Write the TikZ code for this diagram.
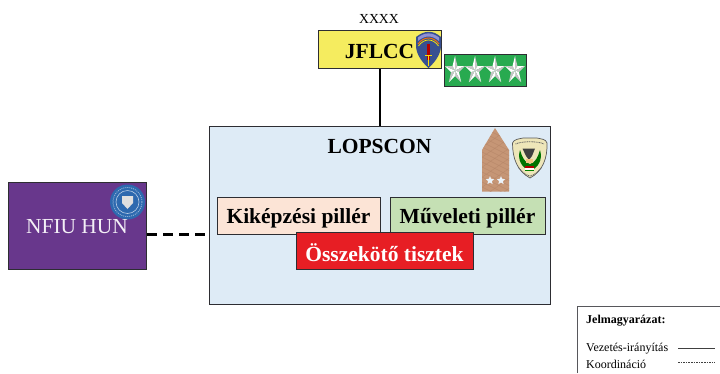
\documentclass[tikz,border=0pt]{standalone}
\usepackage{fontspec}
\setmainfont{Liberation Serif}
\usetikzlibrary{calc}
\definecolor{jyellow}{RGB}{245,236,95}
\definecolor{jgreen}{RGB}{40,170,80}
\definecolor{lblue}{RGB}{222,235,246}
\definecolor{kpeach}{RGB}{252,228,214}
\definecolor{mgreen}{RGB}{197,224,180}
\definecolor{ored}{RGB}{231,30,36}
\definecolor{npurple}{RGB}{104,55,140}
\definecolor{frame}{RGB}{45,45,50}
\definecolor{epa}{RGB}{198,150,118}
\definecolor{epad}{RGB}{178,130,100}
\definecolor{sealb}{RGB}{45,105,175}
\definecolor{badge}{RGB}{238,230,185}
\definecolor{shieldb}{RGB}{55,80,145}
\tikzset{
  box/.style={draw=frame,line width=1.3pt,minimum width=#1,inner sep=0pt,anchor=north west},
  big/.style={font=\fontsize{21.5}{24}\selectfont\bfseries},
  legend/.style={font=\fontsize{12}{14}\selectfont,anchor=west,inner sep=0pt},
  link/.style={line width=2.6pt,black}
}
\newcommand{\fivestar}[2]{%
 \foreach \a in {-90,-18,54,126,198}{
  \fill[white] (#1,#2) -- ($(#1,#2)+({10.5*cos(\a)},{14.5*sin(\a)})$) -- ($(#1,#2)+({4.2*cos(\a-36)},{5.5*sin(\a-36)})$) -- cycle;
  \fill[gray!45] (#1,#2) -- ($(#1,#2)+({10.5*cos(\a)},{14.5*sin(\a)})$) -- ($(#1,#2)+({4.2*cos(\a+36)},{5.5*sin(\a+36)})$) -- cycle;
 }}
\newcommand{\smallstar}[2]{%
 \fill[lblue!60!white] ($(#1,#2)+(-90:4.4)$) \foreach \a in {-90,-18,54,126,198}{ -- ($(#1,#2)+(\a:4.4)$) -- ($(#1,#2)+(\a+36:2)$)} -- cycle;}
\begin{document}
\begin{tikzpicture}[x=1pt,y=-1pt]
\useasboundingbox (0,0) rectangle (720,373);
% LOPSCON
\node[box=341pt,minimum height=178pt,fill=lblue] (lop) at (209,126) {};
\node[big] (loptext) at (379.5,146) {LOPSCON};
% JFLCC
\node[box=123pt,minimum height=38pt,fill=jyellow] (jf) at (318,30) {};
\node[big] (jftext) at (379.5,51) {JFLCC};
\node[font=\fontsize{13.8}{15}\selectfont] (xx) at (379,19) {XXXX};
\draw[link] (jf.south) -- (lop.north -| jf.south);
% JFLCC shield
\fill[shieldb] (416,37) .. controls (425,30) and (433,30) .. (441,37) -- (441,47) .. controls (440,56) and (434,63) .. (428.5,68) .. controls (423,63) and (417,56) .. (416,47) -- cycle;
\fill[gray!55!blue!60!white] (418,37.5) .. controls (425,32) and (432,32) .. (439,37.5) -- (439,41) .. controls (432,35) and (425,35) .. (418,41) -- cycle;
\draw[orange!90!red,line width=.9pt] (418,44) .. controls (424,36) and (433,36) .. (439,44);
\draw[yellow,line width=.7pt] (418.5,46) .. controls (424,38) and (433,38) .. (438.5,46);
\fill[red!70!black] (427.3,44) rectangle (429.7,60);
\draw[yellow!80!orange,line width=.6pt] (425,55) -- (432,55) (428.5,55) -- (428.5,66);
% stars
\node[box=82pt,minimum height=32pt,fill=jgreen] (st) at (444,54) {};
\fivestar{455}{70.5}\fivestar{475}{70.5}\fivestar{495}{70.5}\fivestar{515}{70.5}
% epaulette
\fill[epa] (482,150) -- (495,128) -- (509,150) -- (509,191.5) -- (482,191.5) -- cycle;
\begin{scope}
\clip (482,150) -- (495,128) -- (509,150) -- (509,191.5) -- (482,191.5) -- cycle;
\foreach \i in {0,5,...,70}{\draw[epad,line width=.5pt,opacity=.55] (478,125+\i) -- (514,143+\i);}
\foreach \i in {0,10,...,60}{\draw[epad,line width=.5pt,opacity=.55] (514,125+\i) -- (478,150+\i);}
\end{scope}
\smallstar{490}{180.5}\smallstar{501}{180.5}
% badge
\fill[badge,draw=gray!70!black,line width=.7pt] (512.5,143) .. controls (514,139) and (519,139) .. (523,138) -- (537,138) .. controls (541,139) and (546,139) .. (547,143) .. controls (547.5,158) and (543,171) .. (530,178) .. controls (517,171) and (512.5,158) .. (512.5,143) -- cycle;
\draw[black!60,line width=.8pt,dash pattern=on 1pt off .7pt] (515.5,144) .. controls (522,141) and (538,141) .. (544,144);
\draw[black!60,line width=.8pt,dash pattern=on 1pt off .7pt] (519,168) .. controls (523,173) and (526,175) .. (530,176) .. controls (534,175) and (537,173) .. (541,168);
\fill[green!45!black] (520,150) .. controls (517,160) and (522,168) .. (530,171) .. controls (538,168) and (543,160) .. (540,150) .. controls (538,157) and (535,163) .. (530,164) .. controls (525,163) and (522,157) .. (520,150) -- cycle;
\fill[black!75] (522.5,148.5) -- (535,148.5) -- (532,156) -- (529,160) -- (526,156) -- cycle;
\fill[badge!70!orange] (526,158.5) rectangle (533,163);
\fill[red!70!black] (525,166) rectangle (534,168);
\fill[white] (525,168) rectangle (534,169.5);
\fill[green!50!black] (525,169.5) rectangle (534,171);
% NFIU
\node[box=138pt,minimum height=87pt,fill=npurple] (nf) at (8,182) {};
\fill[sealb] (127.5,202) circle (17.5);
\draw[white!65!sealb,line width=.6pt] (127.5,202) circle (11.5);
\draw[white!50!sealb,line width=.9pt,dash pattern=on 1pt off 1pt] (127.5,202) circle (14.5);
\fill[white!75!gray] (122,196) -- (133,196) -- (133,203) -- (127.5,209) -- (122,203) -- cycle;
\node[font=\fontsize{21.4}{24}\selectfont,text=white!92!npurple] (nftext) at (77,227) {NFIU HUN};
% pillars
\node[box=163pt,minimum height=37pt,fill=kpeach] (kk) at (217,197) {};
\node[big] (kktext) at (298.5,218) {Kiképzési pillér};
\node[box=155pt,minimum height=37pt,fill=mgreen] (mm) at (390,197) {};
\node[big] (mmtext) at (467.5,218) {Műveleti pillér};
\node[box=177pt,minimum height=37pt,fill=ored] (oo) at (296,232) {};
\node[big,text=white] (ootext) at (384.5,253) {Összekötő tisztek};
% dashed link
\draw[line width=2.2pt,black,dash pattern=on 9.5pt off 6.5pt] (nf.east |- 0,234.5) -- (lop.west |- 0,234.5);
% legend
\coordinate (lg) at (577.5,373);
\coordinate (lgc) at (577.5,306.5);
\coordinate (lge) at (720,306.5);
\draw[draw=frame!80,line width=1.3pt] (lg) -- (lgc) -- (lge);
\node[legend,font=\fontsize{12}{14}\selectfont\bfseries] (lt) at (586,320.5) {Jelmagyarázat:};
\node[legend] (l1) at (586,349) {Vezetés-irányítás};
\node[legend] (l2) at (586,364.5) {Koordináció};
\coordinate (a1) at (678,348.5); \coordinate (a2) at (715,348.5);
\coordinate (b1) at (678,362); \coordinate (b2) at (715,362);
\draw[black!75,line width=.7pt] (a1) -- (a2);
\draw[black!75,line width=.7pt,dash pattern=on 1.6pt off 1pt] (b1) -- (b2);
\end{tikzpicture}
\end{document}
